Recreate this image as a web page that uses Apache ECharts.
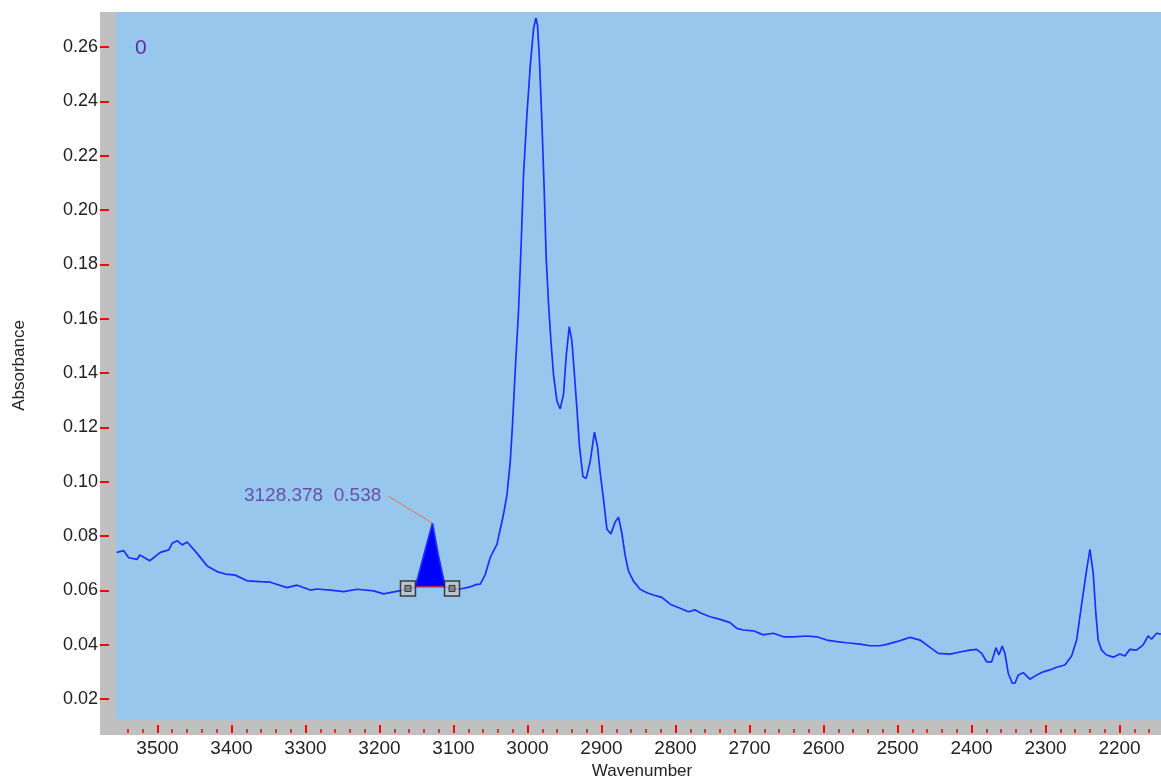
<!DOCTYPE html>
<html>
<head>
<meta charset="utf-8">
<script src="https://cdn.jsdelivr.net/npm/echarts@6/dist/echarts.min.js"></script>
<style>
html,body{margin:0;padding:0;background:#ffffff;}
#chart{width:1161px;height:778px;}
</style>
</head>
<body>
<div id="chart"></div>
<script>
// Spectrum (wavenumber, absorbance)
const wavenumber = [
  3555, 3545.5, 3538.8, 3527.4, 3523.9, 3510.4, 3496, 3484.7, 3480.1, 3473.4,
  3466.6, 3459.9, 3446.4, 3432.9, 3419.4, 3408.2, 3394.7, 3378.9, 3360.9, 3347.4,
  3343.4, 3324.9, 3311.3, 3293.4, 3284.3, 3266.4, 3248.4, 3230.3, 3207.9, 3194.4,
  3171.9,
  3151.6, 3140.0, 3128.4, 3120.5, 3111.1,
  3101.6, 3090.8, 3077.3, 3068.3, 3063.8, 3057.1, 3050.3, 3041.3, 3036.8, 3032.4,
  3027.8, 3023.3, 3020.2, 3016.6, 3012.1, 3008.5, 3005.4, 3000.8, 2996.3, 2991.8,
  2988.6, 2986.5, 2984.1, 2980.5, 2977.4, 2974.7, 2971.6, 2968.3, 2964.8, 2960.2,
  2955.8, 2951.3, 2947.7, 2943.6, 2940.0, 2936.9, 2933.2, 2929.7, 2925.1, 2920.7,
  2915.3, 2909.5, 2905.4, 2901.8, 2897.3, 2892.7, 2887.3, 2881.5, 2877.0, 2872.5,
  2868.0, 2863.6, 2856.8, 2847.8, 2838.7, 2829.8, 2818.5, 2807.2, 2793.7, 2782.5,
  2773.5, 2764.4, 2753.2, 2739.7, 2726.2, 2717.2, 2708.3, 2694.8, 2681.3, 2667.8,
  2654.3, 2640.7, 2622.6, 2609.1, 2595.6, 2582.1, 2568.6, 2550.6, 2537.1, 2523.6,
  2514.6, 2501.1, 2483.1, 2469.6, 2456.1, 2444.9, 2429.1, 2415.6, 2402.1, 2393.1,
  2386.3, 2379.6, 2372.8, 2367.0, 2363.0, 2358.5, 2354.9, 2350.4, 2345.0, 2341.4,
  2336.9, 2330.1, 2321.1, 2312.1, 2303.1, 2294.1, 2285.1, 2273.8, 2264.8, 2258.0,
  2253.6, 2249.1, 2244.5, 2240.0, 2235.6, 2232.0, 2228.9, 2224.3, 2217.6, 2208.6,
  2199.6, 2192.8, 2186.1, 2177.1, 2168.1, 2161.4, 2156.8, 2150.0, 2144.2
];
const absorbance = [
  0.0740, 0.0746, 0.0720, 0.0714, 0.0730, 0.0709, 0.0740, 0.0749, 0.0773, 0.0783,
  0.0767, 0.0778, 0.0736, 0.0690, 0.0669, 0.0660, 0.0656, 0.0635, 0.0632, 0.0630,
  0.0626, 0.0610, 0.0619, 0.0601, 0.0605, 0.0601, 0.0595, 0.0604, 0.0598, 0.0587,
  0.0599,
  0.0612, 0.0730, 0.0847, 0.0730, 0.0612,
  0.0605, 0.0605, 0.0613, 0.0622, 0.0623, 0.0658, 0.0721, 0.0769, 0.0825, 0.0880,
  0.0950, 0.1074, 0.1213, 0.1407, 0.1629, 0.1878, 0.2127, 0.2349, 0.2529, 0.2668,
  0.2707, 0.2682, 0.2571, 0.2321, 0.2072, 0.1823, 0.1656, 0.1518, 0.1393, 0.1296,
  0.1268, 0.1323, 0.1462, 0.1571, 0.1518, 0.1407, 0.1268, 0.1129, 0.1019, 0.1012,
  0.1074, 0.1182, 0.1129, 0.1033, 0.0936, 0.0825, 0.0808, 0.0852, 0.0869, 0.0811,
  0.0728, 0.0672, 0.0634, 0.0604, 0.0591, 0.0583, 0.0574, 0.0549, 0.0534, 0.0521,
  0.0528, 0.0515, 0.0503, 0.0493, 0.0481, 0.0460, 0.0454, 0.0451, 0.0436, 0.0442,
  0.0429, 0.0429, 0.0432, 0.0429, 0.0417, 0.0411, 0.0407, 0.0402, 0.0396, 0.0396,
  0.0401, 0.0411, 0.0427, 0.0417, 0.0390, 0.0368, 0.0365, 0.0373, 0.0380, 0.0383,
  0.0368, 0.0337, 0.0337, 0.0389, 0.0362, 0.0395, 0.0368, 0.0295, 0.0258, 0.0258,
  0.0288, 0.0297, 0.0273, 0.0288, 0.0300, 0.0307, 0.0317, 0.0325, 0.0358, 0.0417,
  0.0503, 0.0589, 0.0675, 0.0751, 0.0663, 0.0515, 0.0417, 0.0380, 0.0362, 0.0354,
  0.0366, 0.0358, 0.0383, 0.0380, 0.0399, 0.0432, 0.0420, 0.0442, 0.0439
];

// Integrated peak annotation
const peakStart = 3151.6;
const peakEnd = 3111.1;
const peakBaseline = 0.0612;
const markerWn = [3161.5, 3102.0];
const markerAbs = [0.0607, 0.0607];
const peakApex = [3128.4, 0.0847];
const labelAnchor = [3188.1, 0.0947];
const peakLabel = '3128.378  0.538';
const cornerLabel = '0';

// Axes
const xRange = [2144, 3556];
const yRange = [0.01264, 0.2729];
const xMajorTicks = [2200, 2300, 2400, 2500, 2600, 2700, 2800, 2900, 3000, 3100, 3200, 3300, 3400, 3500];
const yTicks = [0.02, 0.04, 0.06, 0.08, 0.10, 0.12, 0.14, 0.16, 0.18, 0.20, 0.22, 0.24, 0.26];
const xMinorTicks = [];
for (let v = 2160; v <= 3540; v += 20) { if (v % 100 !== 0) xMinorTicks.push(v); }

const spectrum = wavenumber.map((w, i) => [w, absorbance[i]]);
const peakPts = spectrum.filter(p => p[0] <= peakStart + 0.01 && p[0] >= peakEnd - 0.01);

const FONT = '"Liberation Sans", Arial, sans-serif';
const PURPLE = '#5b2f9e';
const RED = '#ff0000';

const chart = echarts.init(document.getElementById('chart'), null, {renderer: 'canvas'});
const baseX = {
  type: 'value', min: xRange[0], max: xRange[1], inverse: true,
  position: 'bottom', offset: 14,
  axisLine: {show: false}, splitLine: {show: false}
};
chart.setOption({
  animation: false,
  backgroundColor: '#ffffff',
  grid: {left: 116, right: 0, top: 12, bottom: 59, show: true, backgroundColor: '#98c7ee', borderWidth: 0,
    containLabel: false, outerBoundsMode: 'none'},
  graphic: [
    {type: 'rect', z: -5, silent: true, shape: {x: 100, y: 12, width: 1061, height: 723}, style: {fill: '#c0c0c0'}},
    {type: 'text', z: 10, x: 135, y: 38, style: {text: cornerLabel, fill: PURPLE, font: '21px ' + FONT}}
  ],
  xAxis: [
    Object.assign({}, baseX, {
      axisTick: {show: true, inside: true, length: 4, customValues: xMinorTicks, lineStyle: {color: RED, width: 1.5}},
      axisLabel: {show: false}
    }),
    Object.assign({}, baseX, {
      axisTick: {show: true, inside: true, length: 8, customValues: xMajorTicks, lineStyle: {color: RED, width: 2}},
      axisLabel: {show: true, customValues: xMajorTicks, margin: 6, color: '#222222', fontSize: 19, fontFamily: FONT,
        formatter: v => String(v)},
      name: 'Wavenumber', nameLocation: 'middle', nameGap: 26,
      nameTextStyle: {color: '#222222', fontSize: 17, fontFamily: FONT, padding: [0, 0, 0, 7]}
    })
  ],
  yAxis: {
    type: 'value', min: yRange[0], max: yRange[1], offset: 7,
    axisLine: {show: false}, splitLine: {show: false},
    axisTick: {show: true, length: 9, customValues: yTicks, lineStyle: {color: RED, width: 2}},
    axisLabel: {show: true, customValues: yTicks, margin: 11, color: '#222222', fontSize: 18, fontFamily: FONT,
      formatter: v => v.toFixed(2)},
    name: 'Absorbance', nameLocation: 'middle', nameGap: 81,
    nameTextStyle: {color: '#222222', fontSize: 17, fontFamily: FONT}
  },
  series: [
    {
      type: 'custom', xAxisIndex: 1, data: peakPts, z: 1,
      renderItem: (params, api) => {
        if (params.dataIndex !== 0) return null;
        const pts = peakPts.map(p => api.coord(p));
        return {type: 'polygon', shape: {points: pts}, style: {fill: '#0000ff'}};
      }
    },
    {
      type: 'line', xAxisIndex: 1, symbol: 'none', z: 2,
      data: [[peakStart, peakBaseline], [peakEnd, peakBaseline]],
      lineStyle: {color: '#ff3333', width: 1.5}
    },
    {
      type: 'line', xAxisIndex: 1, symbol: 'none', z: 3,
      data: spectrum,
      lineStyle: {color: '#1a2fff', width: 1.7}
    },
    {
      type: 'line', xAxisIndex: 1, symbol: 'none', z: 3,
      data: [labelAnchor, peakApex],
      lineStyle: {color: '#ec6f4f', width: 1}
    },
    {
      type: 'scatter', xAxisIndex: 1, z: 4, symbol: 'rect', symbolSize: 15,
      data: markerWn.map((w, i) => [w, markerAbs[i]]),
      itemStyle: {color: '#c4c4c4', borderColor: '#1a1a1a', borderWidth: 1.5}
    },
    {
      type: 'scatter', xAxisIndex: 1, z: 5, symbol: 'rect', symbolSize: 6,
      data: markerWn.map((w, i) => [w, markerAbs[i]]),
      itemStyle: {color: '#7a7a7a', borderColor: '#1a1a1a', borderWidth: 1}
    },
    {
      type: 'scatter', xAxisIndex: 1, z: 6, symbolSize: 0,
      data: [labelAnchor],
      label: {show: true, position: 'left', distance: 7, formatter: peakLabel, color: PURPLE, fontSize: 19, fontFamily: FONT}
    }
  ]
});
</script>
</body>
</html>
